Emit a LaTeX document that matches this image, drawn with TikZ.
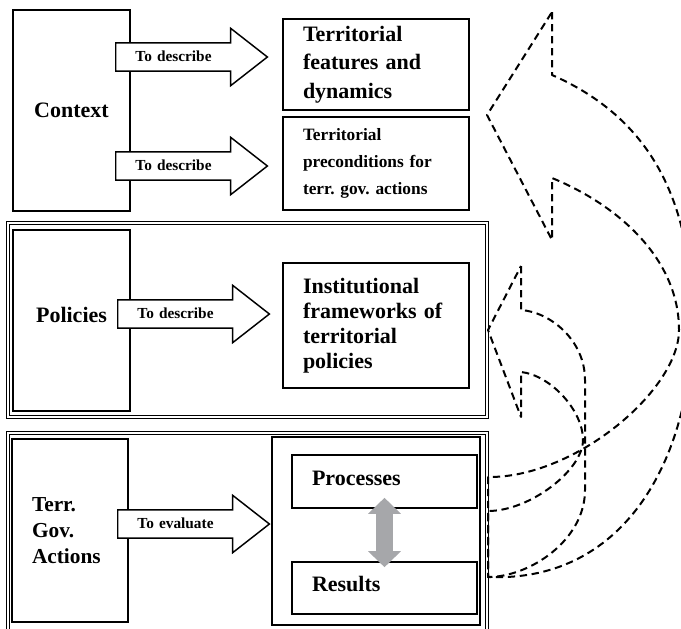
\documentclass[tikz,border=0pt]{standalone}
\usepackage{fontspec}
\setmainfont{Liberation Serif}
\usepackage{tikz}
\usetikzlibrary{shapes.arrows, arrows.meta, positioning}
\definecolor{twowaygray}{RGB}{166,167,170}
\frenchspacing

\begin{document}
\begin{tikzpicture}[x=0.75pt, y=-0.75pt,
  wh/.style 2 args={minimum width=#1*0.75pt, minimum height=#2*0.75pt},
  box/.style={rectangle, draw, line width=1.2pt, inner sep=0pt, align=center, font=\fontsize{16.5}{19.5}\selectfont\bfseries},
  leftbox/.style={box, align=left, inner xsep=15pt, text width=#1*0.75pt},
  groupbox/.style={rectangle, draw, line width=0.8pt, double, double distance=1.1pt},
  blk/.style={single arrow, draw, fill=white, line width=1.1pt, anchor=tail, text width=70.5pt, align=left, inner xsep=14.25pt, inner ysep=5.1pt, text height=8.5pt, text depth=1.5pt, single arrow head extend=10.9pt, single arrow tip angle=76, font=\fontsize{11.5}{13}\selectfont\bfseries},
  twoway/.style={line width=12.75pt, draw=twowaygray, {Triangle[length=12pt, width=24pt]}-{Triangle[length=12pt, width=24pt]}},
  backarrow/.style={dash pattern=on 5.5pt off 3.5pt, line width=1.5pt, line join=round}
]
  \useasboundingbox (0,0) rectangle (681,628);
  \clip (0,0) rectangle (681,628);

  % context row
  \node[box, wh={117}{201}] (ctx) at (71.5,110.5) {Context};
  \node[leftbox=146, wh={186}{91}, font=\fontsize{16.5}{21.5}\selectfont\bfseries] (feat) at (376,64.5) {Territorial\\features and\\dynamics};
  \node[leftbox=146, wh={186}{93}, font=\fontsize{13}{20}\selectfont\bfseries] (precond) at (376,163.5) {Territorial\\preconditions for\\terr. gov. actions};

  % policies row
  \node[groupbox, wh={479}{194}] (polgrp) at (247.5,320) {};
  \node[box, wh={117}{181}, text depth=8pt] (pol) at (71.5,320.5) {Policies};
  \node[leftbox=146, wh={186}{125}, font=\fontsize{16.5}{18.75}\selectfont\bfseries] (inst) at (376,325.5) {Institutional\\frameworks of\\territorial\\policies};

  % territorial governance actions row
  \node[groupbox, wh={479}{207}] (tgagrp) at (247.5,536.5) {};
  \node[leftbox=76, wh={116}{183}, font=\fontsize{16}{19.5}\selectfont\bfseries] (tga) at (70,530.5) {Terr.\\Gov.\\Actions};
  \node[box, wh={208}{188}] (evalgrp) at (376,531) {};
  \node[leftbox=145, wh={185}{53}, text depth=5.5pt] (proc) at (384.5,481.5) {Processes};
  \node[leftbox=145, wh={185}{52}, text depth=5.5pt] (res) at (384.5,588) {Results};

  % block arrows
  \node[blk] (d1) at (115,57) {To describe};
  \node[blk] (d2) at (115,166) {To describe};
  \node[blk] (d3) at (117,314) {To describe};
  \node[blk] (d4) at (117,524) {To evaluate};

  \draw[twoway] ([yshift=8.25pt]proc.south) -- ([yshift=-4.5pt]res.north);

  % feedback arrows
  \draw[backarrow] (552,12) -- (552,75) .. controls (650,118) and (692,200) .. (692,320)
    .. controls (693,450) and (630,583) .. (488,577) -- (488,477)
    .. controls (575,478) and (679,390) .. (679,330)
    .. controls (679,260) and (620,206) .. (552,178) -- (552,240) -- (487,115) -- cycle;
  \draw[backarrow] (521,266) -- (521,310) .. controls (550,312) and (585,340) .. (585,380) -- (585,490)
    .. controls (585,540) and (530,577) .. (488,577) -- (488,511)
    .. controls (530,511) and (583,470) .. (583,440)
    .. controls (583,410) and (550,375) .. (521,372) -- (521,417) -- (488,330) -- cycle;
\end{tikzpicture}
\end{document}
